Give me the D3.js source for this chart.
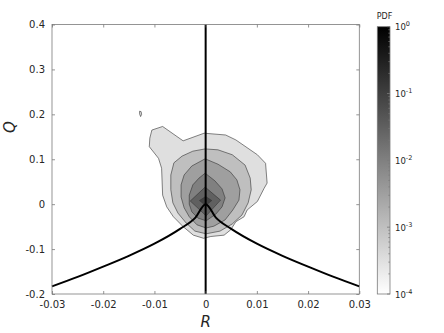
<!DOCTYPE html>
<html><head><meta charset="utf-8">
<script src="https://cdn.jsdelivr.net/npm/d3@7"></script>
<style>
body{margin:0;background:#fff}
svg{display:block}
text{font-family:"DejaVu Sans",sans-serif;fill:#262626}
</style>
</head><body>
<svg id="c" width="444" height="333"></svg>
<script>
// ---- data ----
const xTicks = [-0.03, -0.02, -0.01, 0, 0.01, 0.02, 0.03];
const xTickLabels = ["-0.03", "-0.02", "-0.01", "0", "0.01", "0.02", "0.03"];
const yTicks = [-0.2, -0.1, 0, 0.1, 0.2, 0.3, 0.4];
const yTickLabels = ["-0.2", "-0.1", "0", "0.1", "0.2", "0.3", "0.4"];
const cbExponents = [0, -1, -2, -3, -4];
const levelExponents = [-3.5, -3, -2.5, -2, -1.5, -1];

// contour polygons (R, Q) for each level, outermost first
const level1R = [-0.0003, 0.0039, 0.0059, 0.0101, 0.0117, 0.0120, 0.0114, 0.0101, 0.0081, 0.0075, 0.0059, 0.0049, 0.0036, 0.0010, -0.0004, -0.0024, -0.0044, -0.0063, -0.0076, -0.0084, -0.0086, -0.0092, -0.0110, -0.0109, -0.0105, -0.0084, -0.0044];
const level1Q = [0.158, 0.154, 0.143, 0.110, 0.091, 0.047, 0.035, 0.006, -0.013, -0.028, -0.039, -0.057, -0.069, -0.072, -0.076, -0.069, -0.050, -0.028, -0.006, 0.020, 0.080, 0.102, 0.128, 0.147, 0.165, 0.173, 0.141];
const level2R = [-0.0001, 0.0024, 0.0052, 0.0077, 0.0087, 0.0089, 0.0083, 0.0071, 0.0052, 0.0028, 0.0001, -0.0021, -0.0038, -0.0054, -0.0064, -0.0068, -0.0068, -0.0062, -0.0046, -0.0025];
const level2Q = [0.123, 0.121, 0.110, 0.087, 0.058, 0.032, 0.003, -0.024, -0.044, -0.060, -0.066, -0.060, -0.042, -0.020, 0.003, 0.032, 0.065, 0.092, 0.107, 0.118];
const level3R = [-0.0001, 0.0024, 0.0048, 0.0061, 0.0067, 0.0065, 0.0053, 0.0038, 0.0016, 0.0001, -0.0017, -0.0032, -0.0042, -0.0048, -0.0048, -0.0042, -0.0027];
const level3Q = [0.101, 0.089, 0.072, 0.054, 0.032, 0.009, -0.013, -0.035, -0.049, -0.053, -0.046, -0.028, -0.008, 0.016, 0.043, 0.065, 0.085];
const level4R = [-0.0001, 0.0018, 0.0032, 0.0038, 0.0032, 0.0020, 0.0001, -0.0015, -0.0027, -0.0032, -0.0032, -0.0025, -0.0013];
const level4Q = [0.069, 0.052, 0.034, 0.014, -0.006, -0.022, -0.037, -0.031, -0.017, 0.000, 0.020, 0.043, 0.058];
const level5R = [-0.0001, 0.0029, 0.0001, -0.0030];
const level5Q = [0.038, 0.009, -0.026, 0.007];
const level6R = [0.0000, 0.0012, 0.0000, -0.0012];
const level6Q = [0.017, 0.008, -0.003, 0.008];
const islandR = [-0.0129, -0.0126, -0.0125, -0.0127, -0.0129];
const islandQ = [0.207, 0.206, 0.200, 0.195, 0.201];

// zero-discriminant (Vieillefosse) curve points
const vlR = [-0.03, -0.025, -0.02, -0.015, -0.01, -0.005, -0.002, 0, 0.002, 0.005, 0.01, 0.015, 0.02, 0.025, 0.03];
const vlQ = [-0.183, -0.162, -0.139, -0.115, -0.088, -0.055, -0.030, 0, -0.030, -0.055, -0.088, -0.115, -0.139, -0.162, -0.183];

// ---- drawing ----
const svg = d3.select("#c");
const x = d3.scaleLinear().domain([-0.03, 0.03]).range([52, 359.3]);
const y = d3.scaleLinear().domain([-0.2, 0.4]).range([294, 24.5]);
const shade = d3.scaleLinear().domain([-4, 0]).range([1, 0]);
const grayOf = e => { const v = Math.round(shade(e) * 255); return `rgb(${v},${v},${v})`; };

const levels = [
  [level1R, level1Q], [level2R, level2Q], [level3R, level3Q],
  [level4R, level4Q], [level5R, level5Q], [level6R, level6Q]
];
const line = d3.line().x(d => x(d[0])).y(d => y(d[1])).curve(d3.curveLinearClosed);

const plot = svg.append("g");
plot.append("rect").attr("x", 52).attr("y", 24.5).attr("width", 307.3).attr("height", 269.5).attr("fill", "#fff");

levels.forEach((lv, i) => {
  const pts = lv[0].map((r, k) => [r, lv[1][k]]);
  plot.append("path").attr("d", line(pts))
    .attr("fill", grayOf(levelExponents[i]))
    .attr("stroke", "#333").attr("stroke-width", 0.6).attr("stroke-linejoin", "round");
});
plot.append("path").attr("d", line(islandR.map((r, k) => [r, islandQ[k]])))
  .attr("fill", grayOf(levelExponents[0])).attr("stroke", "#333").attr("stroke-width", 0.6);

// black reference lines
plot.append("path")
  .attr("d", d3.line().x(d => x(d[0])).y(d => y(d[1])).curve(d3.curveMonotoneX)(vlR.map((r, k) => [r, vlQ[k]])))
  .attr("fill", "none").attr("stroke", "#000").attr("stroke-width", 2);
plot.append("line").attr("x1", x(0)).attr("x2", x(0)).attr("y1", y(0.4)).attr("y2", y(-0.2))
  .attr("stroke", "#000").attr("stroke-width", 2);

// axes box
const axCol = "#7a7a7a";
svg.append("rect").attr("x", 52).attr("y", 24.5).attr("width", 307.3).attr("height", 269.5)
  .attr("fill", "none").attr("stroke", axCol).attr("stroke-width", 0.8);

const gx = svg.append("g").attr("transform", "translate(0,294)")
  .call(d3.axisBottom(x).tickValues(xTicks).tickFormat((d, i) => xTickLabels[i]).tickSizeInner(-3).tickSizeOuter(0).tickPadding(7));
const gxt = svg.append("g").attr("transform", "translate(0,24.5)")
  .call(d3.axisTop(x).tickValues(xTicks).tickFormat("").tickSizeInner(-3).tickSizeOuter(0));
const gy = svg.append("g").attr("transform", "translate(52,0)")
  .call(d3.axisLeft(y).tickValues(yTicks).tickFormat((d, i) => yTickLabels[i]).tickSizeInner(-3).tickSizeOuter(0).tickPadding(7));
const gyr = svg.append("g").attr("transform", "translate(359.3,0)")
  .call(d3.axisRight(y).tickValues(yTicks).tickFormat("").tickSizeInner(-3).tickSizeOuter(0));
[gx, gxt, gy, gyr].forEach(g => {
  g.select(".domain").remove();
  g.selectAll(".tick line").attr("stroke", axCol).attr("stroke-width", 0.8);
  g.selectAll(".tick text").attr("font-family", "DejaVu Sans").attr("font-size", 10).attr("fill", "#262626");
});

// axis titles
svg.append("text").attr("x", 205.6).attr("y", 327).attr("text-anchor", "middle")
  .attr("font-family", "Liberation Serif").attr("font-style", "italic").attr("font-size", 15).text("R");
svg.append("text").attr("transform", "translate(15,127) rotate(-90)").attr("text-anchor", "middle")
  .attr("font-family", "Liberation Serif").attr("font-style", "italic").attr("font-size", 15).text("Q");

// colorbar
const cb = d3.scaleLog().domain([1e-4, 1]).range([294, 26.7]);
const defs = svg.append("defs");
const grad = defs.append("linearGradient").attr("id", "cbg").attr("x1", 0).attr("y1", 1).attr("x2", 0).attr("y2", 0);
d3.range(0, 1.0001, 0.1).forEach(t => {
  grad.append("stop").attr("offset", t).attr("stop-color", grayOf(-4 + 4 * t));
});
svg.append("rect").attr("x", 377.3).attr("y", cb(1)).attr("width", 12.7).attr("height", cb(1e-4) - cb(1))
  .attr("fill", "url(#cbg)").attr("stroke", axCol).attr("stroke-width", 0.8);
// minor ticks
const minor = [];
cbExponents.slice(0, 4).forEach(e => { for (let m = 2; m <= 9; m++) minor.push(m * Math.pow(10, e - 1)); });
svg.append("g").selectAll("line").data(minor).join("line")
  .attr("x1", 390).attr("x2", 388.3).attr("y1", d => cb(d)).attr("y2", d => cb(d))
  .attr("stroke", axCol).attr("stroke-width", 0.7);
svg.append("g").selectAll("line").data(cbExponents).join("line")
  .attr("x1", 390).attr("x2", 387).attr("y1", d => cb(Math.pow(10, d))).attr("y2", d => cb(Math.pow(10, d)))
  .attr("stroke", axCol).attr("stroke-width", 0.8);
const lab = svg.append("g").selectAll("text").data(cbExponents).join("text")
  .attr("x", 395).attr("y", d => cb(Math.pow(10, d)) + 3.5)
  .attr("font-size", 8.5).attr("fill", "#262626");
lab.append("tspan").text("10");
lab.append("tspan").attr("dy", -4).attr("font-size", 6.5).text(d => d === 0 ? "0" : "-" + Math.abs(d));
svg.append("text").attr("x", 384.5).attr("y", 18.5).attr("text-anchor", "middle").attr("font-size", 8).text("PDF");
</script>
</body></html>
